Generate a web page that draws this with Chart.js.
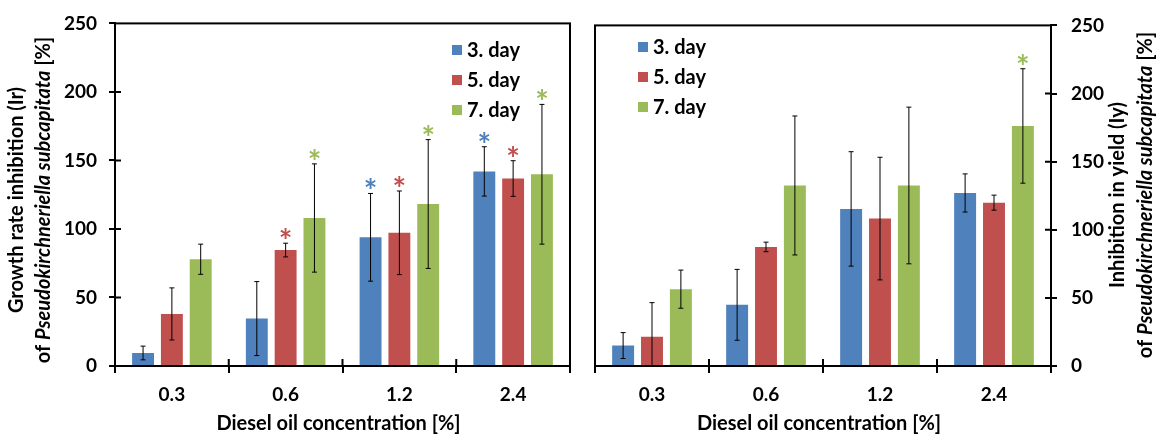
<!DOCTYPE html>
<html>
<head>
<meta charset="utf-8">
<script src="https://cdn.jsdelivr.net/npm/chart.js@4.4.1/dist/chart.umd.min.js"></script>
<style>
    body { margin: 0; background: #fff; }
    #wrap { position: relative; width: 1166px; height: 441px; }
    .panel { position: absolute; top: 0; height: 441px; }
</style>
</head>
<body>
<div id="wrap">
    <div class="panel" style="left:0;width:580px"><canvas id="chartIr"></canvas></div>
    <div class="panel" style="left:580px;width:586px"><canvas id="chartIy"></canvas></div>
</div>
<script>
// categories and series
const concentrations = ["0.3", "0.6", "1.2", "2.4"];
const seriesLabels = ["3. day", "5. day", "7. day"];
const seriesColors = ["#4F81BD", "#C0504D", "#9BBB59"];
const yTicks = [0, 50, 100, 150, 200, 250];

// growth rate inhibition (Ir) - left panel
const irDay3 = [9.5, 34.6, 93.9, 142];
const irDay5 = [38, 84.6, 97.2, 136.8];
const irDay7 = [77.9, 108, 118.2, 139.9];
const irErr3 = [5, 27, 32, 18];
const irErr5 = [19, 5, 30.5, 13];
const irErr7 = [11, 39.5, 47, 51];
const irStar3 = [false, false, true, true];
const irStar5 = [false, true, true, true];
const irStar7 = [false, true, true, true];

// inhibition in yield (Iy) - right panel
const iyDay3 = [15, 44.9, 115.3, 127];
const iyDay5 = [21.5, 87.4, 108.2, 119.9];
const iyDay7 = [56.4, 132.5, 132.5, 176.2];
const iyErr3 = [9.5, 26, 42, 14];
const iyErr5 = [25, 3.5, 45, 5.5];
const iyErr7 = [14, 51, 57.5, 42];
const iyStar3 = [false, false, false, false];
const iyStar5 = [false, false, false, false];
const iyStar7 = [false, false, false, true];

const FONT = "Lato";

function makeSets(values, errors, stars) {
    return values.map((v, i) => ({
        label: seriesLabels[i],
        data: v,
        err: errors[i],
        star: stars[i],
        backgroundColor: seriesColors[i],
        categoryPercentage: 0.76,
        barPercentage: 0.76
    }));
}

// error bars and significance stars
const errorBarPlugin = {
    id: "errorBars",
    afterDatasetsDraw(chart) {
        const ctx = chart.ctx;
        const y = chart.scales.y;
        const area = chart.chartArea;
        ctx.save();
        chart.data.datasets.forEach((ds, di) => {
            const meta = chart.getDatasetMeta(di);
            meta.data.forEach((bar, i) => {
                const v = ds.data[i], e = ds.err[i];
                const top = y.getPixelForValue(v + e);
                const bot = Math.min(y.getPixelForValue(v - e), area.bottom);
                ctx.strokeStyle = "#000";
                ctx.lineWidth = 1;
                ctx.beginPath();
                ctx.moveTo(bar.x, top); ctx.lineTo(bar.x, bot);
                ctx.moveTo(bar.x - 2.5, top); ctx.lineTo(bar.x + 2.5, top);
                if (bot < area.bottom - 1) { ctx.moveTo(bar.x - 2.5, bot); ctx.lineTo(bar.x + 2.5, bot); }
                ctx.stroke();
                if (ds.star[i]) {
                    ctx.font = "bold 32px " + FONT;
                    ctx.fillStyle = ds.backgroundColor;
                    ctx.textAlign = "center";
                    ctx.textBaseline = "alphabetic";
                    const m = ctx.measureText("*");
                    const mid = (m.actualBoundingBoxAscent - m.actualBoundingBoxDescent) / 2;
                    ctx.fillText("*", bar.x, top - 10 + mid);
                }
            });
        });
        ctx.restore();
    }
};

// box, inner ticks, titles and legend
const framePlugin = {
    id: "frame",
    afterDraw(chart, args, opts) {
        const ctx = chart.ctx;
        const a = chart.chartArea;
        const xs = chart.scales.x, ys = chart.scales.y;
        ctx.save();
        ctx.strokeStyle = "#000";
        ctx.lineWidth = 2;
        ctx.strokeRect(a.left, a.top, a.right - a.left, a.bottom - a.top);
        ctx.beginPath();
        for (let i = 1; i < concentrations.length; i++) {
            const bx = (xs.getPixelForValue(i - 1) + xs.getPixelForValue(i)) / 2;
            ctx.moveTo(bx, a.bottom); ctx.lineTo(bx, a.bottom - 7);
        }
        const ax = opts.yRight ? a.right : a.left;
        const dir = opts.yRight ? -1 : 1;
        yTicks.slice(1, -1).forEach(t => {
            const py = ys.getPixelForValue(t);
            ctx.moveTo(ax, py); ctx.lineTo(ax + dir * 6, py);
        });
        ctx.stroke();

        // x title
        ctx.fillStyle = "#000";
        ctx.font = "bold 20px " + FONT;
        ctx.textAlign = "center";
        ctx.textBaseline = "alphabetic";
        ctx.fillText("Diesel oil concentration [%]", (a.left + a.right) / 2 - 4, 430);

        // y title, two lines, part in italics
        opts.yTitle.forEach((line, li) => {
            ctx.save();
            ctx.translate(opts.yTitleX[li], opts.yTitleY);
            ctx.rotate(-Math.PI / 2);
            let total = 0;
            line.forEach(seg => {
                ctx.font = (seg.it ? "italic " : "") + "bold 20px " + FONT;
                total += ctx.measureText(seg.t).width;
            });
            let x = -total / 2;
            ctx.textAlign = "left";
            line.forEach(seg => {
                ctx.font = (seg.it ? "italic " : "") + "bold 20px " + FONT;
                ctx.fillText(seg.t, x, 0);
                x += ctx.measureText(seg.t).width;
            });
            ctx.restore();
        });

        // legend
        ctx.font = "bold 20px " + FONT;
        ctx.textAlign = "left";
        ctx.textBaseline = "middle";
        chart.data.datasets.forEach((ds, i) => {
            const ly = opts.legendY + i * 30;
            ctx.fillStyle = ds.backgroundColor;
            ctx.fillRect(opts.legendX, ly - 5, 10, 10);
            ctx.fillStyle = "#000";
            ctx.fillText(ds.label, opts.legendX + 15, ly + 1);
        });
        ctx.restore();
    }
};

function makeChart(id, sets, yRight, frameOpts) {
    const tickFont = { family: FONT, size: 19, weight: "bold" };
    return new Chart(document.getElementById(id), {
        type: "bar",
        data: { labels: concentrations, datasets: sets },
        options: {
            responsive: true,
            maintainAspectRatio: false,
            animation: false,
            layout: { padding: yRight ? { left: 15, right: 0, top: 16, bottom: 0 } : { left: 0, right: 10, top: 16, bottom: 0 } },
            plugins: { legend: { display: false }, tooltip: { enabled: false }, frame: frameOpts },
            scales: {
                x: {
                    grid: { display: true, drawOnChartArea: false, tickLength: 7, color: "#000", lineWidth: 2 },
                    border: { display: true, color: "#000", width: 2 },
                    ticks: { font: tickFont, color: "#000", padding: 10 },
                    afterFit(scale) { scale.height = 75; }
                },
                y: {
                    position: yRight ? "right" : "left",
                    min: 0,
                    max: 250,
                    afterBuildTicks(scale) { scale.ticks = yTicks.map(v => ({ value: v })); },
                    grid: { display: true, drawOnChartArea: false, tickLength: 6, color: "#000", lineWidth: 2 },
                    border: { display: true, color: "#000", width: 2 },
                    ticks: { font: tickFont, color: "#000", padding: yRight ? 14 : 12 },
                    afterFit(scale) { scale.width = 115; }
                }
            }
        },
        plugins: [errorBarPlugin, framePlugin]
    });
}

makeChart("chartIr",
    makeSets([irDay3, irDay5, irDay7], [irErr3, irErr5, irErr7], [irStar3, irStar5, irStar7]),
    false,
    {
        yRight: false,
        legendX: 452, legendY: 50,
        yTitleX: [23, 50], yTitleY: 200,
        yTitle: [
            [{ t: "Growth rate inhibition (Ir)" }],
            [{ t: "of " }, { t: "Pseudokirchneriella subcapitata", it: true }, { t: " [%]" }]
        ]
    });

makeChart("chartIy",
    makeSets([iyDay3, iyDay5, iyDay7], [iyErr3, iyErr5, iyErr7], [iyStar3, iyStar5, iyStar7]),
    true,
    {
        yRight: true,
        legendX: 58, legendY: 47,
        yTitleX: [544, 572], yTitleY: 195,
        yTitle: [
            [{ t: "Inhibition in yield (Iy)" }],
            [{ t: "of " }, { t: "Pseudokirchneriella subcapitata", it: true }, { t: " [%]" }]
        ]
    });
</script>
</body>
</html>
